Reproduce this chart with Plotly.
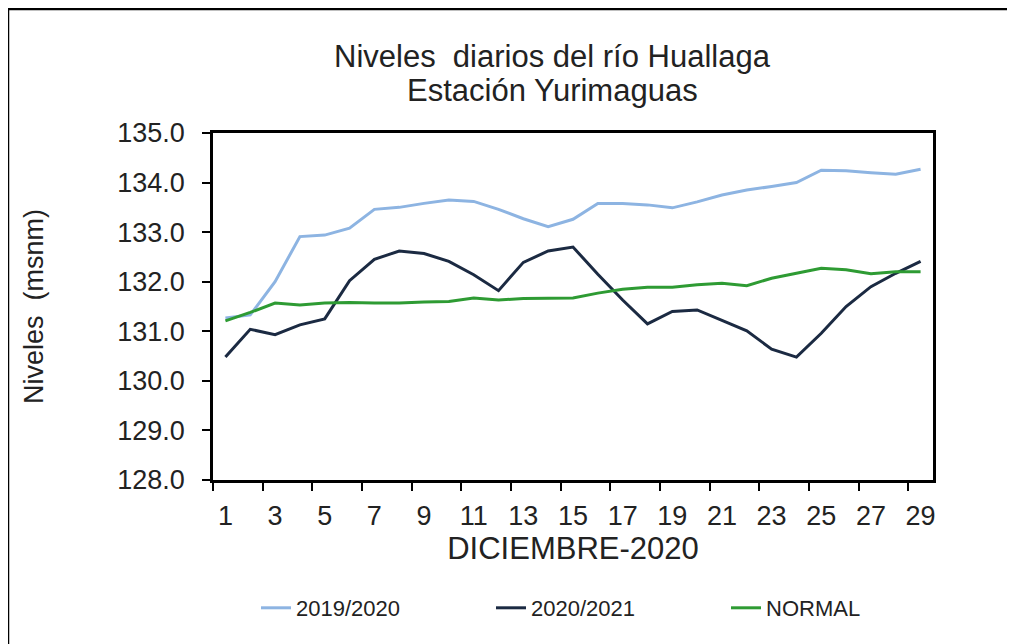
import plotly.graph_objs as go

# daily river levels (msnm), december, days 1..29
days = list(range(1, 30))

nivel_2019_2020 = [131.27, 131.33, 132.0, 132.91, 132.94, 133.08, 133.46, 133.50, 133.58, 133.65,
                   133.62, 133.46, 133.27, 133.11, 133.26, 133.58, 133.58, 133.55, 133.49, 133.61,
                   133.75, 133.85, 133.92, 134.0, 134.25, 134.24, 134.20, 134.17, 134.27]
nivel_2020_2021 = [130.48, 131.04, 130.93, 131.13, 131.25, 132.02, 132.45, 132.62, 132.57, 132.41,
                   132.14, 131.82, 132.39, 132.62, 132.70, 132.15, 131.63, 131.15, 131.40, 131.43,
                   131.22, 131.01, 130.64, 130.48, 130.96, 131.50, 131.90, 132.17, 132.41]
nivel_normal = [131.21, 131.38, 131.57, 131.53, 131.57, 131.58, 131.57, 131.57, 131.59, 131.60,
                131.67, 131.63, 131.66, 131.67, 131.67, 131.77, 131.85, 131.89, 131.89, 131.94,
                131.97, 131.92, 132.07, 132.17, 132.27, 132.24, 132.16, 132.20, 132.20]

series = [
    ("2019/2020", nivel_2019_2020, "#8DB4E2"),
    ("2020/2021", nivel_2020_2021, "#1B2A42"),
    ("NORMAL", nivel_normal, "#2E9B33"),
]

title_lines = ["Niveles\u00a0 diarios del río Huallaga", "Estación Yurimaguas"]

FONT = "Liberation Sans"
TXT = "#222222"

# page body has an 8px margin, plot area ends up at 213..933 x 133..480 in the window
PW, PH = 720, 347


def px_x(px):
    return (px - 213) / PW


def px_y(py):
    return (480 - py) / PH


fig = go.Figure()
for name, vals, color in series:
    fig.add_trace(
        go.Scatter(x=days, y=vals, mode="lines", name=name,
                   line=dict(color=color, width=3))
    )

fig.update_layout(
    width=1015,
    height=644,
    paper_bgcolor="white",
    plot_bgcolor="white",
    margin=dict(l=205, r=90, t=125, b=172),
    font=dict(family=FONT, color=TXT),
    showlegend=True,
    legend=dict(
        orientation="h",
        x=px_x(256), xanchor="left",
        y=px_y(608), yanchor="middle",
        font=dict(size=22, family=FONT, color=TXT),
        entrywidth=190, entrywidthmode="pixels",
        bgcolor="rgba(0,0,0,0)",
    ),
)

for i, line in enumerate(title_lines):
    fig.add_annotation(
        text=line, xref="paper", yref="paper",
        x=px_x(552), y=px_y(57 + 33 * i),
        xanchor="center", yanchor="middle", showarrow=False,
        font=dict(size=31, family=FONT, color=TXT),
    )

fig.update_xaxes(
    range=[0.5, 29.5],
    tickmode="linear", tick0=1, dtick=2,
    ticks="",
    ticklabelstandoff=10,
    tickfont=dict(size=27, family=FONT, color=TXT),
    showgrid=False, zeroline=False,
    showline=True, linecolor="black", linewidth=2.5, mirror=True,
    minor=dict(tickmode="linear", tick0=0.5, dtick=2, ticks="outside",
               ticklen=8, tickwidth=1.5, tickcolor="black", showgrid=False),
    title=dict(text="DICIEMBRE-2020", font=dict(size=31, family=FONT, color=TXT),
               standoff=3),
)

fig.update_yaxes(
    range=[128, 135],
    tickmode="linear", tick0=128, dtick=1, tickformat=".1f",
    ticks="outside", ticklen=8, tickwidth=1.5, tickcolor="black",
    ticklabelstandoff=12,
    tickfont=dict(size=27, family=FONT, color=TXT),
    showgrid=False, zeroline=False,
    showline=True, linecolor="black", linewidth=2.5, mirror=True,
    title=dict(text="Niveles  (msnm)", font=dict(size=27, family=FONT, color=TXT),
               standoff=66),
)

# outer frame of the chart
fig.add_shape(
    type="rect", xref="paper", yref="paper",
    x0=px_x(8), x1=px_x(1010),
    y0=px_y(680), y1=px_y(9),
    line=dict(color="black", width=2.5),
)

fig.write_html("out.html")
